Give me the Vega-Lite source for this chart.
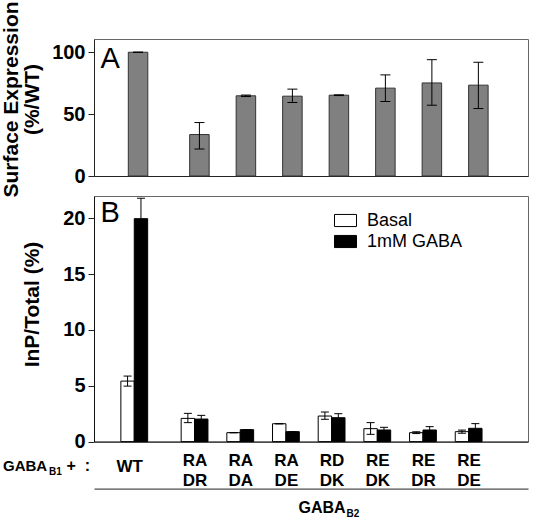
{
  "$schema": "https://vega.github.io/schema/vega-lite/v6.json",
  "padding": {"left": 0, "top": 0, "right": 0, "bottom": 0},
  "config": {
    "font": "Liberation Sans",
    "view": {"stroke": "#666666", "strokeWidth": 1},
    "axis": {"grid": false, "domainColor": "#222222", "tickColor": "#222222", "labelColor": "#000000", "titleColor": "#000000"}
  },
  "datasets": {
    "surf": [
      {"construct": "WT", "slot": 0, "mean": 100, "lo": 100, "hi": 100},
      {"construct": "RA DR", "slot": 1.32, "mean": 33.5, "lo": 21.8, "hi": 43.2},
      {"construct": "RA DA", "slot": 2.32, "mean": 64.8, "lo": 64.2, "hi": 65.4},
      {"construct": "RA DE", "slot": 3.32, "mean": 64.5, "lo": 59.4, "hi": 70.2},
      {"construct": "RD DK", "slot": 4.32, "mean": 65.3, "lo": 65.0, "hi": 65.6},
      {"construct": "RE DK", "slot": 5.32, "mean": 71.0, "lo": 60.2, "hi": 81.7},
      {"construct": "RE DR", "slot": 6.32, "mean": 75.2, "lo": 57.2, "hi": 94.0},
      {"construct": "RE DE", "slot": 7.32, "mean": 73.4, "lo": 54.5, "hi": 91.9}
    ],
    "inp": [
      {"construct": "WT", "slot": 0, "cond": "Basal", "mean": 5.42, "lo": 4.97, "hi": 5.87},
      {"construct": "WT", "slot": 0, "cond": "1mM GABA", "mean": 19.97, "lo": 18.2, "hi": 21.8},
      {"construct": "RA DR", "slot": 1.32, "cond": "Basal", "mean": 2.08, "lo": 1.70, "hi": 2.53},
      {"construct": "RA DR", "slot": 1.32, "cond": "1mM GABA", "mean": 2.02, "lo": 1.70, "hi": 2.35},
      {"construct": "RA DA", "slot": 2.32, "cond": "Basal", "mean": 0.80, "lo": 0.80, "hi": 0.80},
      {"construct": "RA DA", "slot": 2.32, "cond": "1mM GABA", "mean": 1.07, "lo": 1.07, "hi": 1.07},
      {"construct": "RA DE", "slot": 3.32, "cond": "Basal", "mean": 1.60, "lo": 1.60, "hi": 1.60},
      {"construct": "RA DE", "slot": 3.32, "cond": "1mM GABA", "mean": 0.89, "lo": 0.89, "hi": 0.89},
      {"construct": "RD DK", "slot": 4.32, "cond": "Basal", "mean": 2.29, "lo": 2.00, "hi": 2.65},
      {"construct": "RD DK", "slot": 4.32, "cond": "1mM GABA", "mean": 2.14, "lo": 1.80, "hi": 2.50},
      {"construct": "RE DK", "slot": 5.32, "cond": "Basal", "mean": 1.16, "lo": 0.65, "hi": 1.70},
      {"construct": "RE DK", "slot": 5.32, "cond": "1mM GABA", "mean": 1.04, "lo": 0.80, "hi": 1.28},
      {"construct": "RE DR", "slot": 6.32, "cond": "Basal", "mean": 0.80, "lo": 0.72, "hi": 0.88},
      {"construct": "RE DR", "slot": 6.32, "cond": "1mM GABA", "mean": 1.04, "lo": 0.76, "hi": 1.34},
      {"construct": "RE DE", "slot": 7.32, "cond": "Basal", "mean": 0.89, "lo": 0.75, "hi": 1.03},
      {"construct": "RE DE", "slot": 7.32, "cond": "1mM GABA", "mean": 1.19, "lo": 0.80, "hi": 1.61}
    ]
  },
  "bounds": "flush",
  "spacing": 20,
  "vconcat": [
    {
      "width": 434,
      "height": 137,
      "data": {"name": "surf"},
      "encoding": {
        "x": {"field": "slot", "type": "quantitative", "scale": {"domain": [-0.84, 8.28], "nice": false, "zero": false},
              "axis": {"labels": false, "ticks": false, "domainColor": "#222222",
                       "title": "A", "titleX": 6, "titleY": -109, "titleAlign": "left", "titleBaseline": "alphabetic", "titleFontSize": 29, "titleFontWeight": "normal"}},
        "y": {"type": "quantitative", "scale": {"domain": [0, 110.7], "nice": false},
              "axis": {"values": [0, 50, 100], "tickSize": 6, "labelPadding": 3, "labelFontSize": 20, "labelFontWeight": "bold",
                       "title": ["Surface Expression", "(%/WT)"], "titleFontSize": 21, "titleFontWeight": "bold", "titleLineHeight": 21, "titlePadding": 9, "titleY": 60}}
      },
      "layer": [
        {"mark": {"type": "bar", "width": 19.5, "fill": "#808080", "stroke": "#333333", "strokeWidth": 1}, "encoding": {"y": {"field": "mean", "type": "quantitative"}}},
        {"mark": {"type": "rule", "color": "#000000", "strokeWidth": 1}, "encoding": {"y": {"field": "lo", "type": "quantitative"}, "y2": {"field": "hi"}}},
        {"mark": {"type": "tick", "orient": "horizontal", "size": 10, "thickness": 1, "color": "#000000", "opacity": 1}, "encoding": {"y": {"field": "hi", "type": "quantitative"}}},
        {"mark": {"type": "tick", "orient": "horizontal", "size": 10, "thickness": 1, "color": "#000000", "opacity": 1}, "encoding": {"y": {"field": "lo", "type": "quantitative"}}}
      ]
    },
    {
      "width": 434,
      "height": 245.6,
      "data": {"name": "inp"},
      "resolve": {"axis": {"x": "independent"}},
      "layer": [
        {
          "transform": [{"filter": "datum.cond === 'Basal'"}],
          "mark": {"type": "bar", "width": 13.4, "xOffset": -6.7, "stroke": "#000000", "strokeWidth": 1},
          "encoding": {
            "x": {"field": "slot", "type": "quantitative", "scale": {"domain": [-0.772, 8.51], "nice": false, "zero": false},
                  "axis": {"orient": "bottom", "values": [1.32, 2.32, 3.32, 4.32, 5.32, 6.32, 7.32],
                           "labelExpr": "datum.value < 2 ? ['RA','DR'] : datum.value < 3 ? ['RA','DA'] : datum.value < 4 ? ['RA','DE'] : datum.value < 5 ? ['RD','DK'] : datum.value < 6 ? ['RE','DK'] : datum.value < 7 ? ['RE','DR'] : ['RE','DE']",
                           "labelFontSize": 17, "labelFontWeight": "bold", "labelLineHeight": 20, "labelPadding": 11, "labelBaseline": "top", "ticks": false, "domain": true, "domainColor": "#111111",
                           "title": "GABA", "titleX": 204, "titleY": 70.7, "titleAlign": "left", "titleBaseline": "alphabetic", "titleFontSize": 16, "titleFontWeight": "bold"}},
            "y": {"field": "mean", "type": "quantitative", "scale": {"domain": [0, 22], "nice": false},
                  "axis": {"values": [0, 5, 10, 15, 20], "tickSize": 6, "labelPadding": 3, "labelFontSize": 20, "labelFontWeight": "bold", "domainColor": "#111111",
                           "title": "InP/Total (%)", "titleFontSize": 21, "titleFontWeight": "bold", "titlePadding": 20, "titleY": 108}},
            "fill": {"field": "cond", "type": "nominal", "scale": {"domain": ["Basal", "1mM GABA"], "range": ["#ffffff", "#000000"]},
                     "legend": {"title": null, "orient": "none", "legendX": 240, "legendY": 170, "labelFontSize": 18, "labelFont": "Liberation Sans", "labelOffset": 10, "rowPadding": 0,
                                "symbolType": "M-1,-0.55H1V0.55H-1Z", "symbolSize": 484, "symbolStrokeColor": "#000000", "symbolStrokeWidth": 1}}
          }
        },
        {
          "transform": [{"filter": "datum.cond === '1mM GABA'"}],
          "mark": {"type": "bar", "width": 13.4, "xOffset": 6.7, "stroke": "#000000", "strokeWidth": 1},
          "encoding": {
            "x": {"field": "slot", "type": "quantitative", "scale": {"domain": [-0.772, 8.51], "nice": false, "zero": false},
                  "axis": {"orient": "bottom", "values": [0], "labelExpr": "'WT'", "labelFontSize": 17, "labelFontWeight": "bold", "labelPadding": 17, "labelBaseline": "top", "labelAlign": "center", "labelOffset": -5, "ticks": false, "domain": false,
                           "title": "GABA", "titleX": -91.5, "titleY": 28.7, "titleAlign": "left", "titleBaseline": "alphabetic", "titleFontSize": 15, "titleFontWeight": "bold"}},
            "y": {"field": "mean", "type": "quantitative"},
            "fill": {"field": "cond", "type": "nominal"}
          }
        },
        {
          "transform": [{"filter": "datum.cond === 'Basal'"}],
          "mark": {"type": "rule", "xOffset": -6.7, "color": "#000000", "strokeWidth": 1},
          "encoding": {
            "x": {"field": "slot", "type": "quantitative", "scale": {"domain": [-0.772, 8.51], "nice": false, "zero": false},
                  "axis": {"orient": "bottom", "offset": 47, "labels": false, "ticks": false, "domain": true, "domainColor": "#222222",
                           "title": "B2", "titleX": 252, "titleY": 28, "titleAlign": "left", "titleBaseline": "alphabetic", "titleFontSize": 10, "titleFontWeight": "bold"}},
            "y": {"field": "lo", "type": "quantitative"},
            "y2": {"field": "hi"}
          }
        },
        {
          "transform": [{"filter": "datum.cond === '1mM GABA'"}],
          "mark": {"type": "rule", "xOffset": 6.7, "color": "#000000", "strokeWidth": 1},
          "encoding": {
            "x": {"field": "slot", "type": "quantitative", "scale": {"domain": [-0.772, 8.51], "nice": false, "zero": false},
                  "axis": {"orient": "bottom", "labels": false, "ticks": false, "domain": false,
                           "title": "B1", "titleX": -45.5, "titleY": 32.7, "titleAlign": "left", "titleBaseline": "alphabetic", "titleFontSize": 10, "titleFontWeight": "bold"}},
            "y": {"field": "lo", "type": "quantitative"},
            "y2": {"field": "hi"}
          }
        },
        {
          "transform": [{"filter": "datum.cond === 'Basal'"}],
          "mark": {"type": "tick", "orient": "horizontal", "xOffset": -6.7, "size": 8, "thickness": 1, "color": "#000000", "opacity": 1},
          "encoding": {
            "x": {"field": "slot", "type": "quantitative", "scale": {"domain": [-0.772, 8.51], "nice": false, "zero": false},
                  "axis": {"orient": "bottom", "labels": false, "ticks": false, "domain": false,
                           "title": "+\u00a0\u00a0:", "titleX": -28, "titleY": 28.7, "titleAlign": "left", "titleBaseline": "alphabetic", "titleFontSize": 16, "titleFontWeight": "bold"}},
            "y": {"field": "hi", "type": "quantitative"}
          }
        },
        {
          "transform": [{"filter": "datum.cond === 'Basal'"}],
          "mark": {"type": "tick", "orient": "horizontal", "xOffset": -6.7, "size": 8, "thickness": 1, "color": "#000000", "opacity": 1},
          "encoding": {
            "x": {"field": "slot", "type": "quantitative", "scale": {"domain": [-0.772, 8.51], "nice": false, "zero": false},
                  "axis": {"orient": "bottom", "labels": false, "ticks": false, "domain": false,
                           "title": "B", "titleX": 6, "titleY": -220, "titleAlign": "left", "titleBaseline": "alphabetic", "titleFontSize": 29, "titleFontWeight": "normal"}},
            "y": {"field": "lo", "type": "quantitative"}
          }
        },
        {
          "transform": [{"filter": "datum.cond === '1mM GABA'"}],
          "mark": {"type": "tick", "orient": "horizontal", "xOffset": 6.7, "size": 8, "thickness": 1, "color": "#000000", "opacity": 1},
          "encoding": {
            "x": {"field": "slot", "type": "quantitative", "scale": {"domain": [-0.772, 8.51], "nice": false, "zero": false}, "axis": null},
            "y": {"field": "hi", "type": "quantitative"}
          }
        }
      ]
    }
  ]
}
